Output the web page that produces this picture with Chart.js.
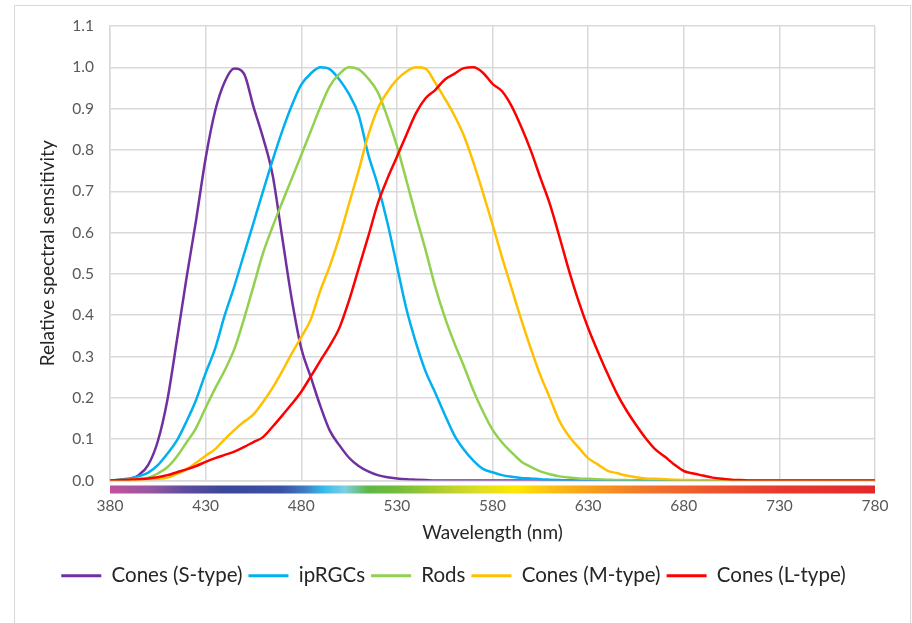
<!DOCTYPE html>
<html>
<head>
<meta charset="utf-8">
<title>Relative spectral sensitivity</title>
<script src="https://cdn.jsdelivr.net/npm/chart.js@4.4.0/dist/chart.umd.min.js"></script>
<style>
  html, body { margin: 0; padding: 0; background: #fff; overflow: hidden; }
  .frame { position: absolute; left: 14px; top: 5px; width: 895px; height: 680px; border: 1px solid #d9d9d9; }
  .chart-box { position: absolute; left: 0; top: 0; width: 912px; height: 623px; }
</style>
</head>
<body>
<div class="frame"></div>
<div class="chart-box"><canvas id="sensitivityChart"></canvas></div>
<script>
// wavelength samples (nm), every 5 nm
const wavelengths = [
  380, 385, 390, 395, 400, 405, 410, 415, 420, 425,
  430, 435, 440, 445, 450, 455, 460, 465, 470, 475,
  480, 485, 490, 495, 500, 505, 510, 515, 520, 525,
  530, 535, 540, 545, 550, 555, 560, 565, 570, 575,
  580, 585, 590, 595, 600, 605, 610, 615, 620, 625,
  630, 635, 640, 645, 650, 655, 660, 665, 670, 675,
  680, 685, 690, 695, 700, 705, 710, 715, 720, 725,
  730, 735, 740, 745, 750, 755, 760, 765, 770, 775,
  780
];

const sCones = [
  0, 0.001, 0.003, 0.013, 0.038, 0.095, 0.195, 0.34, 0.49, 0.63,
  0.78, 0.895, 0.965, 0.997, 0.985, 0.905, 0.83, 0.74, 0.59, 0.44,
  0.32, 0.25, 0.18, 0.12, 0.085, 0.055, 0.035, 0.022, 0.013, 0.008,
  0.005, 0.003, 0.002, 0.001, 0, 0, 0, 0, 0, 0,
  0, 0, 0, 0, 0, 0, 0, 0, 0, 0,
  0, 0, 0, 0, 0, 0, 0, 0, 0, 0,
  0, 0, 0, 0, 0, 0, 0, 0, 0, 0,
  0, 0, 0, 0, 0, 0, 0, 0, 0, 0,
  0
];

const ipRGCs = [
  0, 0.002, 0.005, 0.01, 0.019, 0.037, 0.065, 0.097, 0.143, 0.195,
  0.26, 0.32, 0.40, 0.47, 0.547, 0.623, 0.70, 0.775, 0.845, 0.907,
  0.958, 0.985, 1.0, 0.995, 0.97, 0.935, 0.885, 0.79, 0.715, 0.625,
  0.52, 0.415, 0.333, 0.264, 0.213, 0.16, 0.11, 0.075, 0.048, 0.028,
  0.02, 0.013, 0.009, 0.006, 0.005, 0.003, 0.002, 0.001, 0, 0,
  0, 0, 0, 0, 0, 0, 0, 0, 0, 0,
  0, 0, 0, 0, 0, 0, 0, 0, 0, 0,
  0, 0, 0, 0, 0, 0, 0, 0, 0, 0,
  0
];

const rods = [
  0, 0.001, 0.002, 0.004, 0.007, 0.017, 0.032, 0.058, 0.092, 0.127,
  0.176, 0.223, 0.267, 0.318, 0.39, 0.47, 0.55, 0.614, 0.673, 0.73,
  0.788, 0.846, 0.904, 0.955, 0.984, 1.0, 0.995, 0.973, 0.94, 0.88,
  0.81, 0.726, 0.64, 0.558, 0.47, 0.396, 0.333, 0.277, 0.218, 0.167,
  0.123, 0.092, 0.068, 0.046, 0.033, 0.022, 0.015, 0.01, 0.007, 0.005,
  0.004, 0.003, 0.002, 0.001, 0.001, 0, 0, 0, 0, 0,
  0, 0, 0, 0, 0, 0, 0, 0, 0, 0,
  0, 0, 0, 0, 0, 0, 0, 0, 0, 0,
  0
];

const mCones = [
  0, 0, 0.001, 0.002, 0.003, 0.004, 0.007, 0.016, 0.027, 0.043,
  0.06, 0.076, 0.1, 0.122, 0.142, 0.16, 0.19, 0.224, 0.264, 0.307,
  0.347, 0.39, 0.46, 0.52, 0.59, 0.67, 0.75, 0.835, 0.9, 0.94,
  0.97, 0.99, 1.0, 0.997, 0.963, 0.925, 0.884, 0.835, 0.77, 0.697,
  0.62, 0.54, 0.465, 0.39, 0.32, 0.255, 0.2, 0.144, 0.107, 0.08,
  0.054, 0.039, 0.024, 0.018, 0.012, 0.008, 0.005, 0.004, 0.003, 0.002,
  0.001, 0.001, 0, 0, 0, 0, 0, 0, 0, 0,
  0, 0, 0, 0, 0, 0, 0, 0, 0, 0,
  0
];

const lCones = [
  0, 0.001, 0.002, 0.003, 0.005, 0.008, 0.013, 0.02, 0.027, 0.035,
  0.045, 0.054, 0.062, 0.07, 0.081, 0.093, 0.105, 0.13, 0.157, 0.185,
  0.215, 0.252, 0.29, 0.327, 0.37, 0.436, 0.513, 0.59, 0.67, 0.73,
  0.783, 0.837, 0.889, 0.925, 0.945, 0.97, 0.984, 0.998, 1.0, 0.987,
  0.96, 0.942, 0.906, 0.856, 0.799, 0.733, 0.669, 0.59, 0.508, 0.434,
  0.369, 0.313, 0.26, 0.211, 0.17, 0.135, 0.103, 0.076, 0.058, 0.039,
  0.023, 0.017, 0.012, 0.007, 0.004, 0.002, 0.001, 0, 0, 0,
  0, 0, 0, 0, 0, 0, 0, 0, 0, 0,
  0
];

const xTicks = [380, 430, 480, 530, 580, 630, 680, 730, 780];
const yTicks = [0, 0.1, 0.2, 0.3, 0.4, 0.5, 0.6, 0.7, 0.8, 0.9, 1.0, 1.1];

// visible spectrum strip under the wavelength axis
const spectrumStops = [380, 400, 420, 440, 470, 482, 492, 503, 515, 530, 555, 575, 592, 612, 635, 660, 690, 730, 780];
const spectrumColors = [
  '#c2519c', '#9a57a2', '#5d4b9e', '#3a479b', '#3a52a5', '#3f7cc4', '#36bdee', '#7fcfe0',
  '#5db746', '#72bc3c', '#b4cf2e', '#e2df1e', '#fde800', '#fbbd14', '#f6991e', '#f2762a',
  '#ee5a2c', '#e83a2e', '#e3272b'
];

const seriesLabels = ['Cones (S-type)', 'ipRGCs', 'Rods', 'Cones (M-type)', 'Cones (L-type)'];
const seriesValues = [sCones, ipRGCs, rods, mCones, lCones];
const seriesColors = ['#7030a0', '#00b0f0', '#92d050', '#ffc000', '#ff0000'];

const FONT = 'Lato, "Open Sans", sans-serif';

const spectrumBar = {
  id: 'spectrumBar',
  afterDatasetsDraw(chart) {
    const { ctx, chartArea, scales } = chart;
    const first = spectrumStops[0];
    const last = spectrumStops[spectrumStops.length - 1];
    const left = scales.x.getPixelForValue(first);
    const right = scales.x.getPixelForValue(last);
    const grad = ctx.createLinearGradient(left, 0, right, 0);
    spectrumStops.forEach((nm, i) => {
      grad.addColorStop((nm - first) / (last - first), spectrumColors[i]);
    });
    ctx.save();
    ctx.fillStyle = grad;
    ctx.fillRect(left, chartArea.bottom + 5, right - left, 8);
    ctx.restore();
  }
};

const datasets = seriesLabels.map((label, i) => ({
  label: label,
  data: seriesValues[i],
  borderColor: seriesColors[i],
  backgroundColor: seriesColors[i],
  borderWidth: 2.5,
  pointRadius: 0,
  pointHoverRadius: 0,
  pointBorderWidth: 3,
  cubicInterpolationMode: 'monotone',
  // later series are painted over earlier ones
  order: seriesLabels.length - i
}));

new Chart(document.getElementById('sensitivityChart'), {
  type: 'line',
  data: { labels: wavelengths, datasets: datasets },
  plugins: [spectrumBar],
  options: {
    responsive: true,
    maintainAspectRatio: false,
    animation: false,
    layout: { padding: { left: 32, right: 37, top: 26, bottom: 27 } },
    scales: {
      x: {
        type: 'linear',
        min: 380,
        max: 780,
        afterFit: s => { s.height = 79; },
        afterBuildTicks: s => { s.ticks = xTicks.map(v => ({ value: v })); },
        ticks: {
          color: '#595959',
          font: { family: FONT, size: 15.5 },
          padding: 16,
          maxRotation: 0,
          callback: v => String(v)
        },
        grid: { color: '#d9d9d9', lineWidth: 1.5, drawTicks: false },
        border: { color: '#d9d9d9', width: 1.5 },
        title: {
          display: true,
          text: 'Wavelength (nm)',
          color: '#262626',
          font: { family: FONT, size: 19 },
          padding: { top: 4, bottom: 15 }
        }
      },
      y: {
        min: 0,
        max: 1.1,
        afterFit: s => { s.width = 78; },
        afterBuildTicks: s => { s.ticks = yTicks.map(v => ({ value: v })); },
        ticks: {
          color: '#595959',
          font: { family: FONT, size: 15.5 },
          padding: 16,
          callback: v => Number(v).toFixed(1)
        },
        grid: { color: '#d9d9d9', lineWidth: 1.5, drawTicks: false },
        border: { color: '#d9d9d9', width: 1.5 },
        title: {
          display: true,
          text: 'Relative spectral sensitivity',
          color: '#262626',
          font: { family: FONT, size: 19 },
          padding: { top: 4, bottom: 4 }
        }
      }
    },
    plugins: {
      tooltip: { enabled: false },
      legend: {
        position: 'bottom',
        labels: {
          usePointStyle: true,
          pointStyle: 'line',
          pointStyleWidth: 40,
          color: '#262626',
          font: { family: FONT, size: 20.5 },
          padding: 6,
          sort: (a, b) => a.datasetIndex - b.datasetIndex
        }
      }
    }
  }
});
</script>
</body>
</html>
